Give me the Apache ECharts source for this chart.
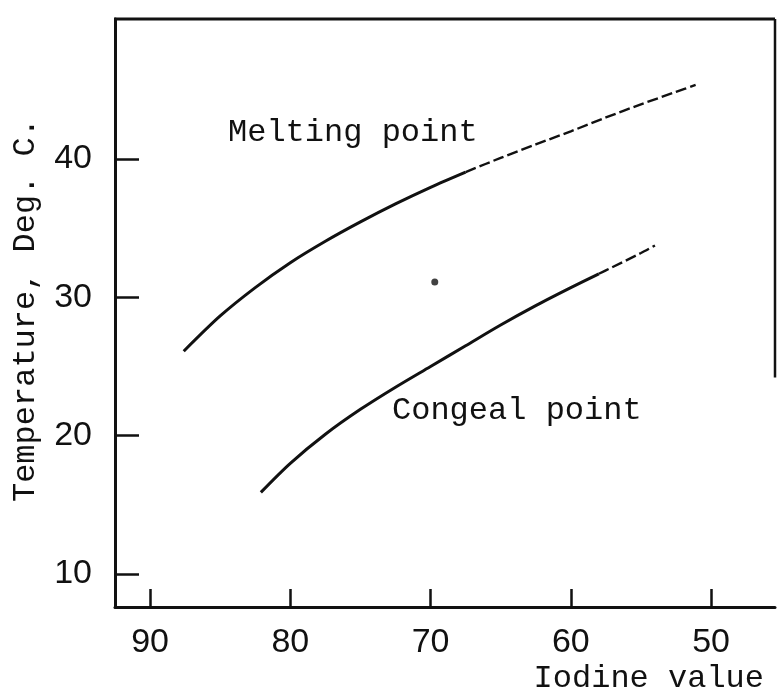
<!DOCTYPE html>
<html>
<head>
<meta charset="utf-8">
<script src="https://cdn.jsdelivr.net/npm/echarts@6/dist/echarts.min.js"></script>
<style>
  html, body { margin: 0; padding: 0; background: #fff; }
  #chart { width: 778px; height: 691px; }
</style>
</head>
<body>
<div id="chart"></div>
<script>
// Iodine value (x) versus temperature in deg. C (y)
const xTicks = [50, 60, 70, 80, 90];
const yTicks = [10, 20, 30, 40];
const xRange = [45.44, 92.5];
const yRange = [7.61, 50.12];

// Melting point curve: drawn part, then the lightly dashed continuation
const meltingSolid = [
  [87.6, 26.1], [85, 28.65], [82.5, 30.7], [80, 32.5],
  [77.5, 34.05], [75, 35.45], [72.5, 36.75], [70, 37.95], [67.5, 39.05]
];
const meltingDashed = [
  [67.5, 39.05], [65, 40.08], [62.5, 41.05], [60, 42.0], [57.5, 43.0],
  [55, 43.95], [52.5, 44.85], [51.1, 45.35]
];

// Congeal point curve
const congealSolid = [
  [82.1, 15.9], [80, 18.0], [77.5, 20.1], [75, 21.9], [72.5, 23.5],
  [70, 25.0], [67.5, 26.5], [65, 28.0], [62.5, 29.4], [60, 30.7], [58, 31.7]
];
const congealDashed = [
  [58, 31.7], [57.5, 31.95], [55, 33.2], [54, 33.75]
];

// Single plotted spot between the curves
const spot = [[69.7, 31.1]];

const INK = '#111';
const monoFont = '"Liberation Mono", "DejaVu Sans Mono", monospace';
const numFont = '"Liberation Sans", "DejaVu Sans", sans-serif';

const chart = echarts.init(document.getElementById('chart'), null, { renderer: 'canvas' });

const lineSeries = (data, dashed) => ({
  type: 'line',
  data: data,
  smooth: 0.3,
  symbol: 'none',
  silent: true,
  lineStyle: {
    color: INK,
    width: dashed ? 2.4 : 3,
    type: dashed ? [11, 4] : 'solid'
  }
});

chart.setOption({
  backgroundColor: '#fff',
  animation: false,
  grid: { left: 115, right: 3, top: 19, bottom: 84 },
  xAxis: {
    type: 'value',
    inverse: true,
    min: xRange[0],
    max: xRange[1],
    axisLine: { show: true, onZero: false, lineStyle: { color: INK, width: 3 } },
    axisTick: {
      show: true, inside: true, length: 18, customValues: xTicks,
      lineStyle: { color: INK, width: 2.5 }
    },
    axisLabel: {
      customValues: xTicks, margin: 19,
      color: INK, fontFamily: numFont, fontSize: 34
    },
    splitLine: { show: false }
  },
  yAxis: {
    type: 'value',
    min: yRange[0],
    max: yRange[1],
    axisLine: { show: true, onZero: false, lineStyle: { color: INK, width: 3 } },
    axisTick: {
      show: true, inside: true, length: 24, customValues: yTicks,
      lineStyle: { color: INK, width: 2.5 }
    },
    axisLabel: {
      customValues: yTicks, margin: 23,
      color: INK, fontFamily: numFont, fontSize: 34,
      padding: [12, 0, 0, 0]
    },
    splitLine: { show: false }
  },
  series: [
    lineSeries(meltingSolid, false),
    lineSeries(meltingDashed, true),
    lineSeries(congealSolid, false),
    lineSeries(congealDashed, true),
    {
      type: 'scatter',
      data: spot,
      symbol: 'circle',
      symbolSize: 7,
      silent: true,
      itemStyle: { color: INK }
    }
  ]
});

// Frame top edge and the upper part of the right edge, plus the text labels
const px = (x, y) => chart.convertToPixel({ gridIndex: 0 }, [x, y]);
const topLeft = px(xRange[1], yRange[1]);
const topRight = px(xRange[0], yRange[1]);
const rightLow = px(xRange[0], 24.2);

const textStyle = (extra) => Object.assign({
  fill: INK, fontFamily: monoFont, fontSize: 32
}, extra);

chart.setOption({
  graphic: [
    {
      type: 'line', silent: true,
      shape: { x1: topLeft[0] - 1, y1: topLeft[1], x2: topRight[0], y2: topRight[1] },
      style: { stroke: INK, lineWidth: 3 }
    },
    {
      type: 'line', silent: true,
      shape: { x1: topRight[0], y1: topRight[1], x2: rightLow[0], y2: rightLow[1] },
      style: { stroke: INK, lineWidth: 2.5 }
    },
    {
      type: 'text', silent: true, x: 228, y: 133,
      style: textStyle({ text: 'Melting point', textAlign: 'left', textVerticalAlign: 'middle' })
    },
    {
      type: 'text', silent: true, x: 392, y: 411,
      style: textStyle({ text: 'Congeal point', textAlign: 'left', textVerticalAlign: 'middle' })
    },
    {
      type: 'text', silent: true, x: 764, y: 679,
      style: textStyle({ text: 'Iodine value', textAlign: 'right', textVerticalAlign: 'middle' })
    },
    {
      type: 'text', silent: true, x: 26, y: 310, rotation: Math.PI / 2,
      style: textStyle({ text: 'Temperature, Deg. C.', textAlign: 'center', textVerticalAlign: 'middle' })
    }
  ]
});
</script>
</body>
</html>
